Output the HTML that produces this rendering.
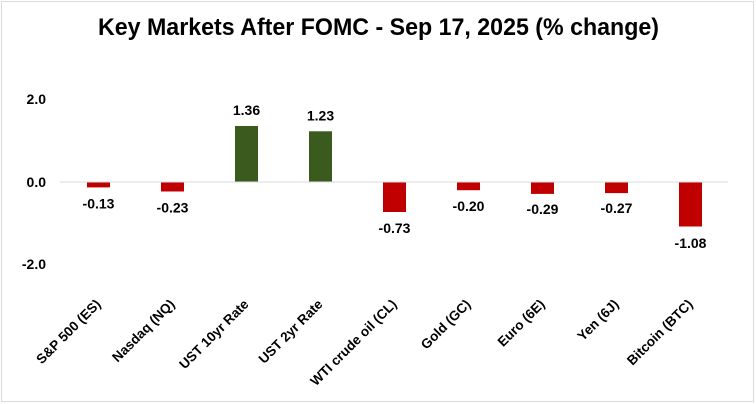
<!DOCTYPE html>
<html>
<head>
<meta charset="utf-8">
<style>
  html, body { margin:0; padding:0; background:#ffffff; }
  svg { display:block; }
  text { font-family: "Liberation Sans", Arial, sans-serif; font-weight: bold; fill:#000; }
</style>
</head>
<body>
<svg width="756" height="404" viewBox="0 0 756 404" xmlns="http://www.w3.org/2000/svg">
  <rect x="0" y="0" width="756" height="404" fill="#ffffff"/>
  <rect x="1.5" y="1.5" width="752" height="400" fill="none" stroke="#d9d9d9" stroke-width="1"/>

  <!-- Title -->
  <text x="378.5" y="35" font-size="24" text-anchor="middle" textLength="561" lengthAdjust="spacingAndGlyphs">Key Markets After FOMC - Sep 17, 2025 (% change)</text>

  <!-- Y axis labels -->
  <text x="46" y="104" font-size="14" text-anchor="end">2.0</text>
  <text x="46" y="187" font-size="14" text-anchor="end">0.0</text>
  <text x="46" y="269" font-size="14" text-anchor="end">-2.0</text>

  <!-- Bars (y0 = 182, 41.2 px/unit, width 23) -->
  <g>
    <rect x="87"  y="182" width="23" height="5.4"  fill="#C00000"/>
    <rect x="161" y="182" width="23" height="9.5"  fill="#C00000"/>
    <rect x="235" y="126" width="23" height="56"   fill="#3A5A1E"/>
    <rect x="309" y="131.3" width="23" height="50.7" fill="#3A5A1E"/>
    <rect x="383" y="182" width="23" height="30"   fill="#C00000"/>
    <rect x="457" y="182" width="23" height="8.2"  fill="#C00000"/>
    <rect x="531" y="182" width="23" height="11.9" fill="#C00000"/>
    <rect x="605" y="182" width="23" height="11.1" fill="#C00000"/>
    <rect x="679" y="182" width="23" height="44.5" fill="#C00000"/>
  </g>

  <!-- Zero line -->
  <line x1="60" y1="182" x2="728" y2="182" stroke="#d9d9d9" stroke-width="1"/>

  <!-- Data labels -->
  <g font-size="14" text-anchor="middle">
    <text x="98.5"  y="208.5">-0.13</text>
    <text x="172.5" y="212.5">-0.23</text>
    <text x="246.5" y="115">1.36</text>
    <text x="320.5" y="120.5">1.23</text>
    <text x="394.5" y="233">-0.73</text>
    <text x="468.5" y="211">-0.20</text>
    <text x="542.5" y="214">-0.29</text>
    <text x="616.5" y="213">-0.27</text>
    <text x="690.5" y="248">-1.08</text>
  </g>

  <!-- Category labels (rotated -45) -->
  <g font-size="13.5" text-anchor="end">
    <text transform="translate(101.5,305) rotate(-45)">S&amp;P 500 (ES)</text>
    <text transform="translate(175.5,305) rotate(-45)">Nasdaq (NQ)</text>
    <text transform="translate(249.5,305) rotate(-45)">UST 10yr Rate</text>
    <text transform="translate(323.5,305) rotate(-45)">UST 2yr Rate</text>
    <text transform="translate(397.5,305) rotate(-45)">WTI crude oil (CL)</text>
    <text transform="translate(471.5,305) rotate(-45)">Gold (GC)</text>
    <text transform="translate(545.5,305) rotate(-45)">Euro (6E)</text>
    <text transform="translate(619.5,305) rotate(-45)">Yen (6J)</text>
    <text transform="translate(693.5,305) rotate(-45)">Bitcoin (BTC)</text>
  </g>
</svg>
</body>
</html>
